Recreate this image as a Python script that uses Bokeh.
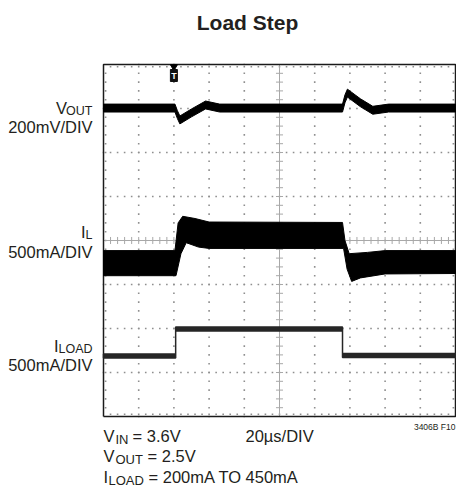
from bokeh.plotting import figure
from bokeh.models import Label
from bokeh.embed import file_html
from bokeh.resources import INLINE
from bokeh.core.properties import value

# ---------------- data (divisions: x 0..10 at 20us/DIV, y 0..8) ----------------
vout_t = [0, 2.03, 2.10, 2.17, 2.50, 2.90, 3.30, 6.79, 6.86, 6.93, 7.30, 7.65, 8.10, 10]
vout_v = [7.01, 7.01, 6.86, 6.74, 6.90, 7.08, 7.01, 7.01, 7.22, 7.35, 7.13, 6.96, 7.01, 7.01]

il_up_t = [0, 2.03, 2.12, 2.25, 2.60, 3.00, 6.79, 6.86, 6.98, 7.50, 8.00, 10]
il_up_v = [3.77, 3.77, 4.40, 4.55, 4.50, 4.42, 4.41, 4.00, 3.70, 3.73, 3.77, 3.77]
il_lo_t = [0, 2.06, 2.20, 2.35, 2.70, 3.00, 6.82, 6.92, 7.05, 7.30, 8.00, 10]
il_lo_v = [3.20, 3.20, 3.70, 3.95, 3.85, 3.82, 3.82, 3.35, 3.07, 3.15, 3.24, 3.25]

iload_t = [0, 2.05, 2.05, 6.79, 6.79, 10]
iload_v = [1.375, 1.375, 1.99, 1.99, 1.385, 1.385]

trigger_t = 2.0

FONT = "Liberation Sans"
TXT = "#231f20"

W, H = 456, 489


def X(px):
    return (px - 103) / 35.2


def Y(py):
    return (416 - py) / 44


p = figure(width=W, height=H, x_range=(X(0), X(W)), y_range=(Y(H), Y(0)),
           output_backend="svg", toolbar_location=None,
           min_border=0, min_border_left=0, min_border_right=0,
           min_border_top=0, min_border_bottom=0)
p.xaxis.visible = False
p.yaxis.visible = False
p.xgrid.visible = False
p.ygrid.visible = False
p.outline_line_color = None
p.background_fill_color = "white"
p.border_fill_color = "white"

# ---------------- graticule ----------------
dx, dy = [], []
for gx in range(1, 10):
    if gx == 5:
        continue
    for k in range(0, 41):
        dx.append(gx)
        dy.append(k * 0.2)
for gy in range(1, 8):
    if gy == 4:
        continue
    for k in range(0, 51):
        dx.append(k * 0.2)
        dy.append(gy)
for k in range(1, 50):
    dx += [k * 0.2, k * 0.2]
    dy += [8 - 0.05, 0.05]
for k in range(1, 40):
    dx += [0.06, 10 - 0.06]
    dy += [k * 0.2, k * 0.2]
p.scatter(dx, dy, marker="square", size=1.6, color="#8f8f8f", line_width=0)

p.line([5, 5], [0, 8], line_color="#a8a8a8", line_width=1)
p.line([0, 10], [4, 4], line_color="#a8a8a8", line_width=1)
tk = [k * 0.2 for k in range(1, 40)]
p.segment(x0=[5 - 0.1] * len(tk), y0=tk, x1=[5 + 0.1] * len(tk), y1=tk,
          line_color="#a8a8a8", line_width=1)
tkx = [k * 0.2 for k in range(1, 50)]
p.segment(x0=tkx, y0=[4 - 0.08] * len(tkx), x1=tkx, y1=[4 + 0.08] * len(tkx),
          line_color="#a8a8a8", line_width=1)

# scope frame
p.line([0, 10, 10, 0, 0], [0, 0, 8, 8, 0], line_color="#1a1a1a", line_width=1.5)


# ---------------- traces ----------------
def band(t, c, h):
    xs = list(t) + list(t)[::-1]
    ys = [v + h for v in c] + [v - h for v in c][::-1]
    return xs, ys


xs, ys = band(vout_t, vout_v, 0.09)
p.patch(xs, ys, fill_color="#000000", line_color="#000000", line_width=1)

p.patch(il_up_t + il_lo_t[::-1], il_up_v + il_lo_v[::-1],
        fill_color="#000000", line_color="#000000", line_width=1)

xs, ys = band(iload_t, iload_v, 0.045)
p.patch(xs, ys, fill_color="#262626", line_color="#262626", line_width=1.5)

p.scatter([trigger_t], [8 - 0.05], marker="inverted_triangle", size=7, color="#000000")
p.rect([trigger_t], [Y(75)], width=7, height=12, width_units="screen", height_units="screen",
       fill_color="#111111", line_color="#111111")
p.text([trigger_t], [Y(75)], text=["T"], text_align="center", text_baseline="middle",
       text_font=value("Liberation Sans"), text_font_style="bold", text_font_size="9px",
       text_color="white")


# ---------------- texts ----------------
def lab(text, px, py, size, align="left", bold=False):
    # py is the wanted baseline; the label is placed by its middle
    p.add_layout(Label(x=X(px), y=Y(py - 0.36 * size), text=text, text_font=FONT,
                       text_font_size=f"{size}px", text_align=align,
                       text_baseline="alphabetic",
                       text_font_style="bold" if bold else "normal",
                       text_color=TXT))


lab("Load Step", 247, 30, 21, "center", bold=True)

lab("V", 66.5, 113, 16.5, "right")
lab("OUT", 92, 115, 12.5, "right")
lab("200mV/DIV", 92, 132, 16.5, "right")

lab("I", 85, 237, 16.5, "right")
lab("L", 92, 239, 12.5, "right")
lab("500mA/DIV", 92, 257, 16.5, "right")

lab("I", 58, 351, 16.5, "right")
lab("LOAD", 92, 353, 12.5, "right")
lab("500mA/DIV", 92, 370, 16.5, "right")

lab("V", 103, 441, 16.5)
lab("IN", 115, 443.5, 13)
lab("= 3.6V", 132, 441, 16.5)
lab("20\u00b5s/DIV", 245, 441, 16.5)
lab("3406B F10", 455, 430, 8.5, "right")

lab("V", 103, 461.5, 16.5)
lab("OUT", 115, 464, 13)
lab("= 2.5V", 147, 461.5, 16.5)

lab("I", 103, 482, 16.5)
lab("LOAD", 108, 484.5, 13)
lab("= 200mA TO 450mA", 148, 482, 16.5)

open("out.html", "w").write(file_html(p, INLINE))
